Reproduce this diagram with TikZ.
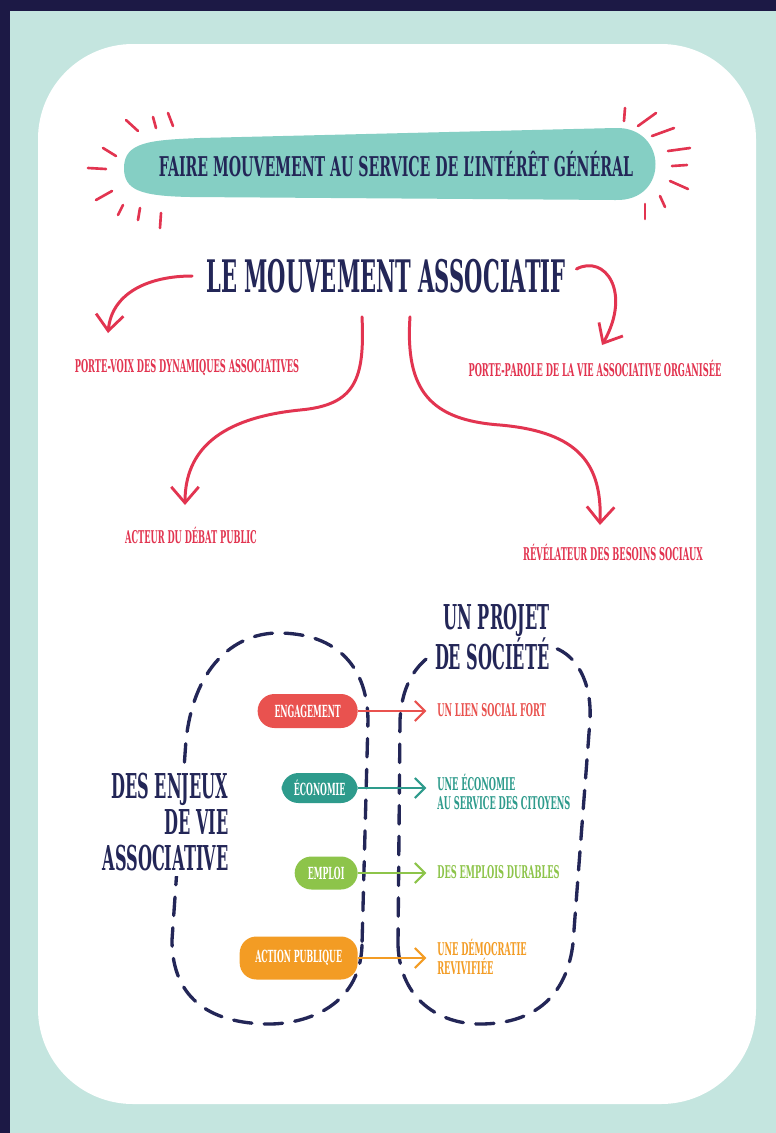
\documentclass[tikz,border=0pt]{standalone}
\usepackage{fontspec}
\usepackage{xcolor}
\usepackage{tikz}
\usetikzlibrary{positioning,calc,arrows.meta}
\newfontfamily\handfont[FakeStretch=0.52]{DejaVu Serif}
\newfontfamily\handfontserre[FakeStretch=0.47]{DejaVu Serif}
\definecolor{FondNuit}{RGB}{28,25,69}
\definecolor{FondMenthe}{RGB}{196,229,223}
\definecolor{BandeauVert}{RGB}{133,207,196}
\definecolor{EncreBleu}{RGB}{35,38,87}
\definecolor{RougeVif}{RGB}{226,52,80}
\definecolor{Corail}{RGB}{233,82,79}
\definecolor{Sarcelle}{RGB}{46,155,140}
\definecolor{VertPomme}{RGB}{141,196,74}
\definecolor{OrangeVif}{RGB}{243,156,36}

\begin{document}
\begin{tikzpicture}[x=0.02cm,y=-0.02cm]
	\tikzset{
		titre/.style={font=\handfontserre\bfseries\fontsize{25.5}{28}\selectfont, text=EncreBleu, inner sep=2pt},
		bloc/.style={font=\handfontserre\bfseries\fontsize{19.5}{20.5}\selectfont, text=EncreBleu, fill=white, align=right, inner sep=3pt},
		rouge/.style={font=\handfontserre\bfseries\fontsize{10}{11}\selectfont, text=RougeVif, inner sep=1pt},
		fl/.style={-{Straight Barb[length=3.2mm,width=5.5mm,line width=1.6pt]}, draw=RougeVif, line width=1.7pt, line cap=round},
		ray/.style={draw=RougeVif, line width=1.5pt, line cap=round},
		tiret/.style={draw=EncreBleu, line width=1.9pt, dash pattern=on 10.5pt off 7pt, line cap=round},
		pill/.style={rectangle, rounded corners=9.5pt, fill=#1, text=white, font=\handfontserre\bfseries\fontsize{9.5}{10}\selectfont, inner sep=0pt, anchor=east},
		lien/.style={-{Straight Barb[length=2mm,width=4mm]}, draw=#1, line width=1.2pt, shorten >=6pt},
		effet/.style={font=\handfontserre\bfseries\fontsize{10}{11}\selectfont, text=#1, align=left, anchor=west, inner sep=0pt}
	}
	\useasboundingbox (0,0) rectangle (776,1133);
	
	% ======= Fond =======
	\fill[FondNuit] (0,0) rectangle (776,1133);
	\fill[FondMenthe] (10,11) rectangle (776,1133);
	\fill[white, rounded corners=1.9cm] (38,44) rectangle (756,1104);
	
	% ======= Bandeau =======
	\fill[BandeauVert] (124,168) .. controls (124,142) and (150,140) .. (200,138)
		-- (615,128) .. controls (668,126) and (670,202) .. (615,200)
		-- (190,197) .. controls (140,196) and (124,190) .. (124,168) -- cycle;
	\node[titre, font=\handfont\bfseries\fontsize{15.5}{17}\selectfont] (bandeau) at (396,164) {FAIRE MOUVEMENT AU SERVICE DE L’INTÉRÊT GÉNÉRAL};
	\foreach \xa/\ya/\xb/\yb in {126/120/138/131, 153/117/156/128, 168/113/173/126, 103/148/116/156, 88/168/106/169,
		96/200/112/191, 118/215/123/205, 138/220/140/208, 160/228/161/213,
		625/108/624/121, 638/126/656/113, 652/136/674/128, 668/151/690/148, 672/166/687/165,
		670/181/688/189, 660/196/665/207, 645/204/645/219}
		\draw[ray] (\xa,\ya) -- (\xb,\yb);
	
	% ======= Le mouvement associatif =======
	\node[titre] (mvt) at (386,276) {LE MOUVEMENT ASSOCIATIF};
	\node[rouge] (voix) at (187,368) {PORTE-VOIX DES DYNAMIQUES ASSOCIATIVES};
	\node[rouge] (parole) at (595,368) {PORTE-PAROLE DE LA VIE ASSOCIATIVE ORGANISÉE};
	\node[rouge] (acteur) at (191,535) {ACTEUR DU DÉBAT PUBLIC};
	\node[rouge] (revel) at (613,552) {RÉVÉLATEUR DES BESOINS SOCIAUX};
	
	\coordinate (p1) at (108,333);
	\coordinate (p2) at (602,345);
	\coordinate (p3) at (185,505);
	\coordinate (p4) at (600,525);
	\draw[fl] ([xshift=-6pt]mvt.west) .. controls (150,276) and (112,292) .. (p1);
	\draw[fl] ([xshift=4pt,yshift=4pt]mvt.east) .. controls (605,254) and (632,292) .. (p2);
	\draw[fl] ($(mvt.south)+(-24,20)$) .. controls (365,380) and (355,405) .. (300,410)
		.. controls (220,418) and (185,450) .. (p3);
	\draw[fl] ($(mvt.south)+(24,20)$) .. controls (405,390) and (430,420) .. (500,425)
		.. controls (580,432) and (602,465) .. (p4);
	
	% ======= Les deux boucles =======
	\draw[tiret] (362,945) .. controls (360,1010) and (300,1025) .. (265,1024)
		.. controls (200,1022) and (172,990) .. (172,940) -- (186,740)
		.. controls (195,660) and (240,633) .. (278,633)
		.. controls (330,633) and (367,660) .. (368,720) -- cycle;
	\draw[tiret] (398,945) .. controls (400,1000) and (440,1024) .. (480,1024)
		.. controls (540,1024) and (572,990) .. (574,930) -- (590,720)
		.. controls (592,680) and (575,655) .. (555,648)
		.. controls (520,640) and (470,640) .. (440,650)
		.. controls (420,660) and (402,680) .. (400,720) -- cycle;
	\node[bloc, anchor=east] (projet) at (555,637) {UN PROJET\\DE SOCIÉTÉ};
	\node[bloc, anchor=east] (enjeux) at (234,822) {DES ENJEUX\\DE VIE\\ASSOCIATIVE};
	
	% ======= Enjeux -> effets =======
	\node[pill=Corail, minimum width=2cm, minimum height=0.68cm] (eng) at (358,711) {ENGAGEMENT};
	\node[pill=Sarcelle, minimum width=1.52cm, minimum height=0.6cm] (eco) at (358,788) {ÉCONOMIE};
	\node[pill=VertPomme, minimum width=1.26cm, minimum height=0.66cm] (emp) at (358,873) {EMPLOI};
	\node[pill=OrangeVif, minimum width=2.36cm, minimum height=0.86cm] (act) at (358,958) {ACTION PUBLIQUE};
	
	\node[effet=Corail] (lien) at (437,710) {UN LIEN SOCIAL FORT};
	\node[effet=Sarcelle] (citoy) at (437,792) {UNE ÉCONOMIE\\AU SERVICE DES CITOYENS};
	\node[effet=VertPomme] (durable) at (437,872) {DES EMPLOIS DURABLES};
	\node[effet=OrangeVif] (demo) at (437,957) {UNE DÉMOCRATIE\\REVIVIFIÉE};
	
	\draw[lien=Corail] (eng.east) -- (eng.east -| lien.west);
	\draw[lien=Sarcelle] (eco.east) -- (eco.east -| citoy.west);
	\draw[lien=VertPomme] (emp.east) -- (emp.east -| durable.west);
	\draw[lien=OrangeVif] (act.east) -- (act.east -| demo.west);
\end{tikzpicture}
\end{document}
